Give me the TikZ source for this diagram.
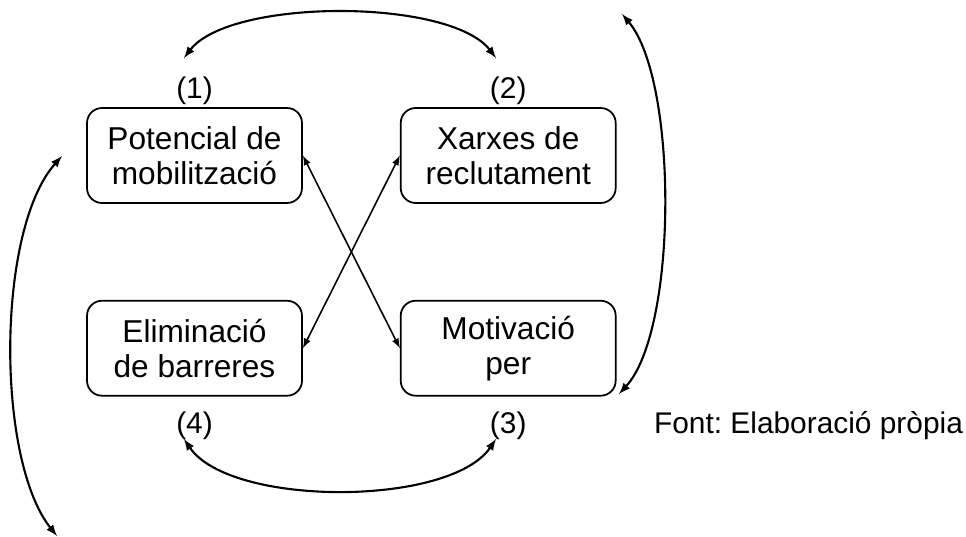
\documentclass[tikz,border=0pt]{standalone}
\usepackage{fontspec}
\setmainfont{Liberation Sans}
\usepackage{tikz}
\usetikzlibrary{positioning, shapes, arrows}

\tikzset{
  factor/.style={rectangle, rounded corners=0.3cm, draw, line width=1pt, minimum width=4.3cm, minimum height=1.9cm, align=center, inner sep=0pt, font=\fontsize{18}{19.9}\selectfont},
  num/.style={inner sep=0pt, font=\fontsize{17}{19.9}\selectfont},
  link/.style={<->, >=latex, line width=1.2pt},
  cross/.style={<->, >=latex, line width=0.9pt}
}

\begin{document}
\frenchspacing
\begin{tikzpicture}[x=0.02cm, y=-0.02cm]
\useasboundingbox (0,0) rectangle (966,537);
\node[factor] (pot) at (194.5,155.5) {Potencial de\\mobilització};
\node[factor, right=1.94cm of pot] (xar) {Xarxes de\\reclutament};
\node[factor, below=1.92cm of xar] (mot) {Motivació\\per};
\node[factor, below=1.92cm of pot] (eli) {Eliminació\\de barreres};
\node[num, above=0.04cm of pot] (n1) {(1)};
\node[num, above=0.04cm of xar] (n2) {(2)};
\node[num, below=0.3cm of mot] (n3) {(3)};
\node[num, below=0.3cm of eli] (n4) {(4)};
\node[num, right=2.54cm of n3] (font) {Font: Elaboració pròpia};
\coordinate (t1) at (184,58);
\coordinate (t2) at (496,58);
\coordinate (b4) at (184,439);
\coordinate (b3) at (496,439);
\coordinate (rtop) at (622,14);
\coordinate (rbot) at (619,394);
\coordinate (ltop) at (62,156);
\coordinate (lbot) at (57,536);
\draw[link] (t1) .. controls (230,-2) and (450,-2) .. (t2);
\draw[link] (b4) .. controls (230,507) and (450,507) .. (b3);
\draw[link] (rtop) .. controls (678,80) and (678,330) .. (rbot);
\draw[link] (ltop) .. controls (-4,230) and (-4,460) .. (lbot);
\draw[cross] (pot.east) -- (mot.west);
\draw[cross] (xar.west) -- (eli.east);
\end{tikzpicture}
\end{document}
